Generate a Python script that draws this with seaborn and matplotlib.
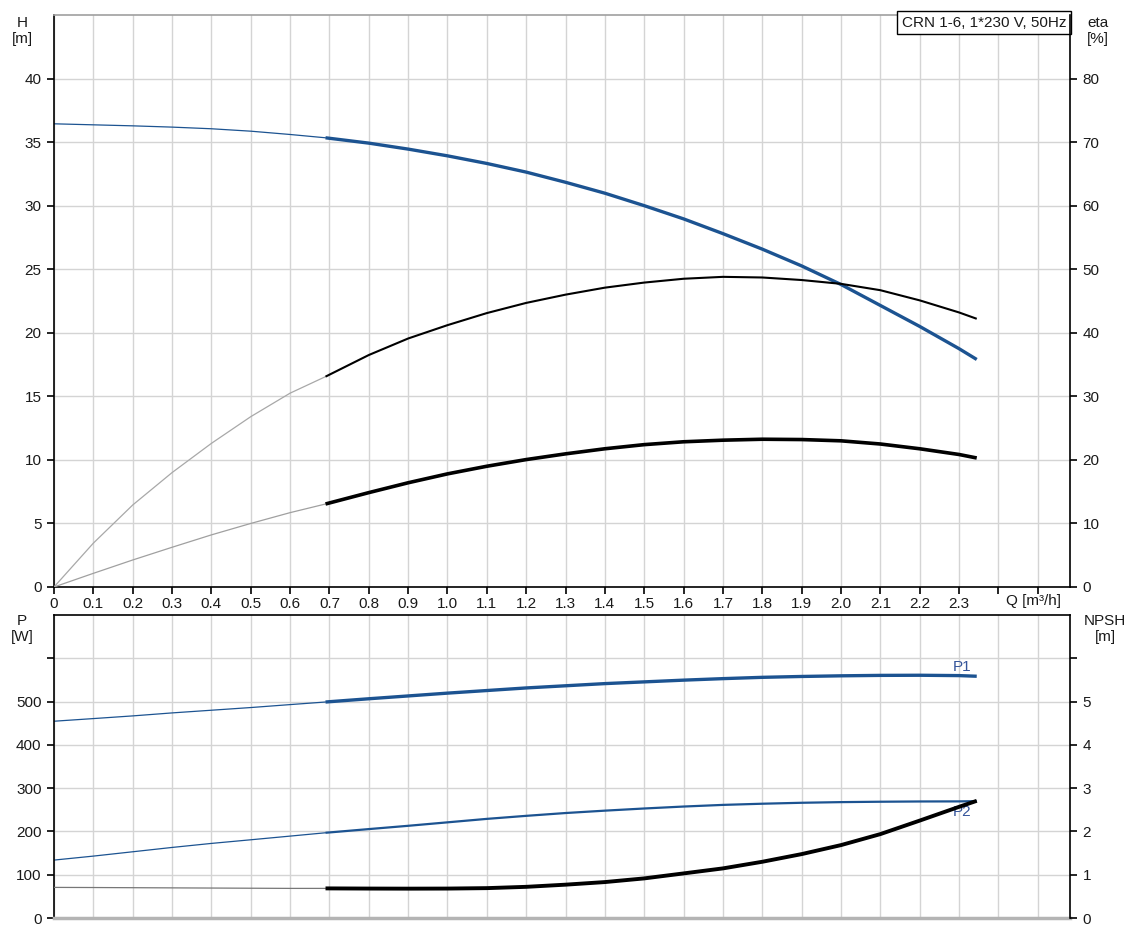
import numpy as np
import pandas as pd
import matplotlib
matplotlib.use("Agg")
import matplotlib.pyplot as plt
import seaborn as sns

# Flow points [m³/h], split between the thin and thick parts of each curve at 0.69
q = [0, 0.1, 0.2, 0.3, 0.4, 0.5, 0.6, 0.69, 0.8, 0.9, 1.0, 1.1, 1.2, 1.3, 1.4,
     1.5, 1.6, 1.7, 1.8, 1.9, 2.0, 2.1, 2.2, 2.3, 2.345]
q_split = 0.69

# Head H [m]
head = [36.44, 36.36, 36.28, 36.18, 36.05, 35.86, 35.6, 35.34, 34.92, 34.45, 33.92,
        33.32, 32.64, 31.84, 30.98, 30.0, 28.96, 27.8, 26.58, 25.26, 23.8, 22.15,
        20.5, 18.75, 17.9]
# Pump efficiency eta [%]
eta_pump = [0, 6.9, 12.9, 18.0, 22.6, 26.8, 30.5, 33.1, 36.5, 39.1, 41.2, 43.1, 44.7,
            46.0, 47.1, 47.9, 48.5, 48.8, 48.7, 48.3, 47.7, 46.7, 45.1, 43.2, 42.2]
# Total efficiency eta [%]
eta_total = [0, 2.15, 4.25, 6.25, 8.2, 10.0, 11.7, 13.06, 14.85, 16.4, 17.8, 19.0,
             20.05, 20.95, 21.75, 22.4, 22.85, 23.1, 23.25, 23.2, 23.0, 22.5, 21.75, 20.85, 20.3]
# Power P1, P2 [W]
p1 = [454.6, 460.7, 466.9, 473.8, 480, 486.2, 493, 499, 506.5, 513, 519.5, 525.5, 531.5,
      536.5, 541.5, 545.5, 549.5, 553, 556, 558, 559.5, 560.5, 560.8, 560, 558.5]
p2 = [133.8, 143, 153, 163, 172.3, 180.7, 189.2, 196.9, 205.4, 213, 221, 229, 236,
      242.5, 248, 253, 257.5, 261.3, 264, 266.2, 267.7, 268.6, 269.2, 269.4, 269.9]
# NPSH [m]
npsh = [0.707, 0.704, 0.70, 0.696, 0.692, 0.688, 0.684, 0.684, 0.68, 0.678, 0.68, 0.69,
        0.72, 0.77, 0.83, 0.915, 1.03, 1.146, 1.299, 1.476, 1.684, 1.938, 2.25, 2.568, 2.707]

x_ticks = [0, 0.1, 0.2, 0.3, 0.4, 0.5, 0.6, 0.7, 0.8, 0.9, 1.0, 1.1, 1.2, 1.3, 1.4,
           1.5, 1.6, 1.7, 1.8, 1.9, 2.0, 2.1, 2.2, 2.3, 2.4, 2.5]
x_labels = ["0"] + [f"{v:.1f}" for v in x_ticks[1:24]] + ["", ""]

BLUE = "#1c5391"
TXT = "#1a1a1a"
FS = 11


def curve(ax, values, color, thin_color, lw_thick, lw_thin=0.9):
    df = pd.DataFrame({"q": q, "v": values})
    thin = df[df["q"] <= q_split]
    thick = df[df["q"] >= q_split]
    sns.lineplot(data=thin, x="q", y="v", ax=ax, color=thin_color, lw=lw_thin,
                 sort=False, estimator=None)
    sns.lineplot(data=thick, x="q", y="v", ax=ax, color=color, lw=lw_thick,
                 sort=False, estimator=None, solid_capstyle="butt")


def style_axes(ax, twin):
    for a in (ax, twin):
        a.set_xlabel("")
        a.set_ylabel("")
        for s in a.spines.values():
            s.set_color("black")
            s.set_linewidth(1.2)
    # the twin sits on top: keep only its right spine
    for side in ("top", "bottom", "left"):
        twin.spines[side].set_visible(False)
    ax.spines["right"].set_visible(False)
    ax.grid(True, color="#d4d4d4", lw=1)
    twin.grid(False)
    ax.tick_params(axis="y", direction="out", length=5, width=1.2, colors="black",
                   labelcolor=TXT, labelsize=FS, pad=4, left=True)
    twin.tick_params(axis="y", direction="out", length=5, width=1.2, colors="black",
                     labelcolor=TXT, labelsize=FS, pad=4, right=True)


def main():
    sns.set_style("whitegrid")
    plt.rcParams["font.family"] = ["Liberation Sans", "DejaVu Sans"]

    fig = plt.figure(figsize=(11.31, 9.39), dpi=100)
    W, H = 1131, 939
    ax_h = fig.add_axes([54 / W, 1 - 587 / H, 1016 / W, 572 / H])
    ax_p = fig.add_axes([54 / W, 1 - 918 / H, 1016 / W, 303 / H])
    ax_eta = ax_h.twinx()
    ax_npsh = ax_p.twinx()

    # top panel: head and efficiencies
    curve(ax_h, head, BLUE, BLUE, 2.4)
    curve(ax_eta, eta_pump, "black", "#a8a8a8", 1.5)
    curve(ax_eta, eta_total, "black", "#a0a0a0", 2.6)

    ax_h.set_xlim(0, 2.582)
    ax_h.set_ylim(0, 45)
    ax_eta.set_ylim(0, 90)
    ax_h.set_yticks(range(0, 45, 5))
    ax_eta.set_yticks(range(0, 90, 10))
    ax_h.set_xticks(x_ticks)
    ax_h.set_xticklabels(x_labels)
    style_axes(ax_h, ax_eta)
    ax_h.spines["top"].set_color("#a0a0a0")
    ax_h.tick_params(axis="x", direction="out", length=5, width=1.2, colors="black",
                     labelcolor=TXT, labelsize=FS, pad=2, bottom=True)
    ax_h.text(0.9636, -0.0245, "Q [m³/h]", transform=ax_h.transAxes, ha="center",
              va="center", fontsize=FS, color=TXT)
    ax_h.text(0.9965, 0.9985, "CRN 1-6, 1*230 V, 50Hz", transform=ax_h.transAxes,
              ha="right", va="top", fontsize=FS, color=TXT, zorder=10,
              bbox=dict(boxstyle="square,pad=0.3", fc="white", ec="black", lw=1))

    # bottom panel: power and NPSH
    curve(ax_p, p1, BLUE, BLUE, 2.4)
    curve(ax_p, p2, BLUE, BLUE, 1.6)
    curve(ax_npsh, npsh, "black", "#777777", 2.8)

    ax_p.set_xlim(0, 2.582)
    ax_p.set_ylim(0, 700)
    ax_npsh.set_ylim(0, 7)
    ax_p.set_yticks(range(0, 700, 100))
    ax_p.set_yticklabels([str(v) if v <= 500 else "" for v in range(0, 700, 100)])
    ax_npsh.set_yticks(range(0, 7))
    ax_npsh.set_yticklabels([str(v) if v <= 5 else "" for v in range(0, 7)])
    ax_p.set_xticks(x_ticks)
    style_axes(ax_p, ax_npsh)
    ax_p.tick_params(axis="x", bottom=False, labelbottom=False)
    ax_p.spines["bottom"].set_color("#b4b4b4")
    ax_p.spines["bottom"].set_linewidth(2.5)
    ax_p.text(2.307, 581, "P1", color="#34549a", fontsize=FS, ha="center", va="center")
    ax_p.text(2.307, 245, "P2", color="#34549a", fontsize=FS, ha="center", va="center")

    # axis titles
    for x, y, s in [(22, 31, "H\n[m]"), (1098, 31, "eta\n[%]"),
                    (22, 629, "P\n[W]"), (1105, 629, "NPSH\n[m]")]:
        fig.text(x / W, 1 - y / H, s, ha="center", va="center", fontsize=FS,
                 color=TXT, linespacing=1.15)

    fig.savefig("out.png", dpi=100)
    plt.close(fig)


if __name__ == "__main__":
    main()
